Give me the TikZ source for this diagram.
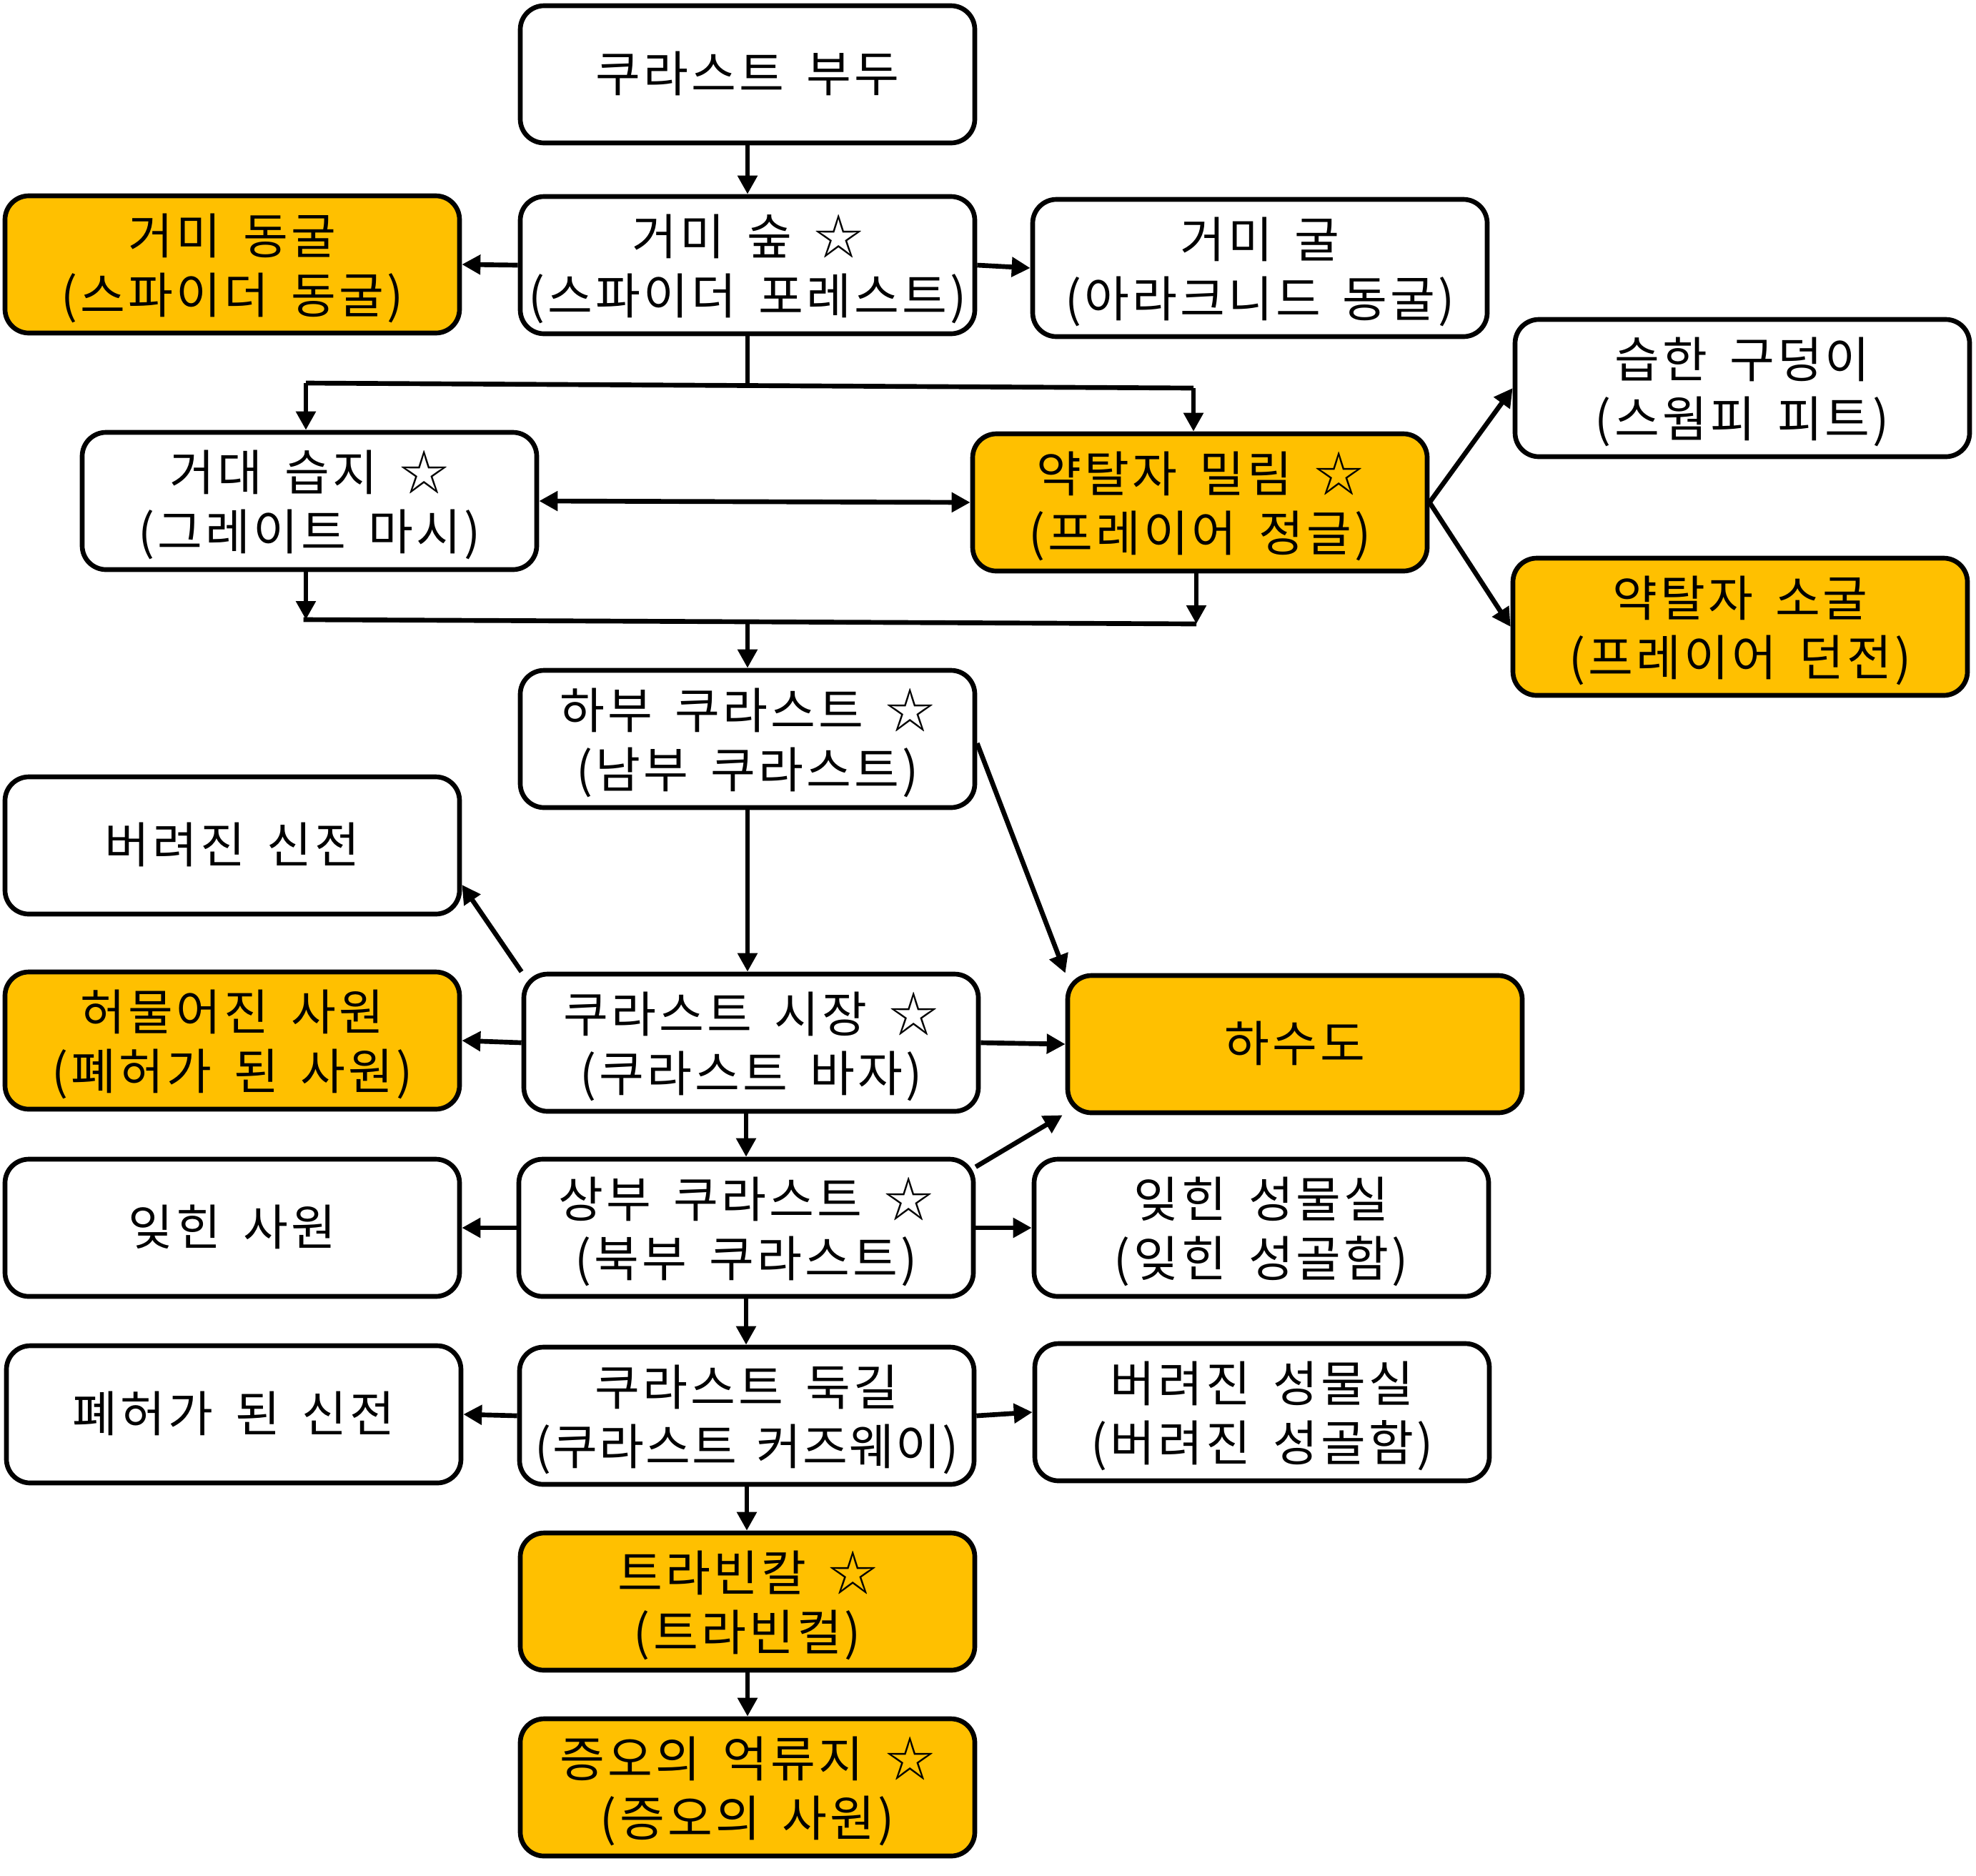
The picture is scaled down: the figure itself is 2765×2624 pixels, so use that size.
\documentclass[tikz,border=0pt]{standalone}
\usepackage{fontspec}
\newfontfamily\kr[LetterSpace=6,WordSpace=1.6]{Noto Sans CJK KR}
\newfontfamily\krn[LetterSpace=3,WordSpace=1.6]{Noto Sans CJK KR}
\usetikzlibrary{arrows.meta}
\definecolor{gold}{HTML}{FFC000}
\begin{document}
\begin{tikzpicture}[x=0.3pt,y=-0.3pt,
  box/.style={draw, line width=2pt, rounded corners=10pt, minimum width=190.8pt,
    minimum height=57.6pt, inner sep=0pt, align=center, fill=white,
    font=\kr\fontsize{20.5}{25}\selectfont, text height=45pt, text depth=4pt},
  one/.style={text height=17pt, text depth=2.2pt},
  gbox/.style={box, fill=gold},
  conn/.style={line width=2pt, -{Triangle[length=7.8pt,width=8pt]}},
  biconn/.style={line width=2pt, {Triangle[length=7.8pt,width=8pt]}-{Triangle[length=7.8pt,width=8pt]}},
  plain/.style={line width=2pt}]
\useasboundingbox (0,0) rectangle (2765,2624);

\node[box,one]  (n1)  at (1046,104)  {쿠라스트 부두};
\node[box]  (n2)  at (1046,371)  {거미 숲 ☆\\(스파이더 포레스트)};
\node[gbox] (n3)  at (325,370)   {거미 동굴\\(스파이더 동굴)};
\node[box]  (n4)  at (1763,375)  {거미 굴\\(아라크니드 동굴)};
\node[box]  (n5)  at (2438,543)  {습한 구덩이\\(스웜피 피트)};
\node[box]  (n6)  at (433,701)   {거대 습지 ☆\\(그레이트 마시)};
\node[gbox] (n7)  at (1679,703)  {약탈자 밀림 ☆\\(프레이어 정글)};
\node[gbox] (n8)  at (2435,877)  {약탈자 소굴\\(프레이어 던전)};
\node[box]  (n9)  at (1046,1034) {하부 쿠라스트 ☆\\(남부 쿠라스트)};
\node[box,one]  (n10) at (325,1183)  {버려진 신전};
\node[gbox] (n11) at (325,1456)  {허물어진 사원\\(폐허가 된 사원)};
\node[box]  (n12) at (1051,1459) {쿠라스트 시장 ☆\\(쿠라스트 바자)};
\node[gbox,one] (n13) at (1812,1461) {하수도};
\node[box,one]  (n14) at (325,1718)  {잊힌 사원};
\node[box]  (n15) at (1044,1718) {상부 쿠라스트 ☆\\(북부 쿠라스트)};
\node[box]  (n16) at (1765,1718) {잊힌 성물실\\(잊힌 성골함)};
\node[box,one]  (n17) at (327,1979)  {폐허가 된 신전};
\node[box]  (n18) at (1045,1981) {쿠라스트 둑길\\{\krn (쿠라스트 커즈웨이)}};
\node[box]  (n19) at (1766,1976) {버려진 성물실\\(버려진 성골함)};
\node[gbox] (n20) at (1046,2241) {트라빈칼 ☆\\(트라빈컬)};
\node[gbox] (n21) at (1046,2501) {증오의 억류지 ☆\\(증오의 사원)};

% top part
\draw[conn] (n1.south) -- (n2.north);
\draw[conn] (n2.west) -- (n3.east);
\draw[conn] (n2.east) -- (n4.west);

\coordinate (b1) at (1046,540);
\coordinate (bl) at (428,536);
\coordinate (br) at (1670,543);
\draw[plain] (n2.south) -- (b1);
\draw[plain] (bl) -- (br);
\draw[conn] (bl) -- (bl |- n6.north);
\draw[conn] (br) -- (br |- n7.north);

\draw[biconn] (n6.east) -- (n7.west);
\draw[conn] (n7.east) -- (n5.west);
\draw[conn] (n7.east) -- (n8.west);

\coordinate (m1) at (428,867);
\coordinate (m2) at (1674,873);
\coordinate (m3) at (1046,870);
\draw[conn] (m1 |- n6.south) -- (m1);
\draw[conn] (m2 |- n7.south) -- (m2);
\draw[plain] ([xshift=-1pt]m1) -- (m2);
\draw[conn] (m3) -- (n9.north);

% middle
\draw[conn] (n9.south) -- (n9.south |- n12.north);
\draw[conn] ([yshift=-1.8pt]n9.east) -- (n13.north west);
\draw[conn] (n12.north west) -- ([yshift=-16.5pt]n10.east);
\draw[conn] (n12.west) -- (n11.east);
\draw[conn] (n12.east) -- (n13.west);
\draw[conn] (n15.north |- n12.south) -- (n15.north);
\draw[conn] ([yshift=-4.2pt]n15.north east) -- ([xshift=-1.2pt]n13.south west);
\draw[conn] (n15.west) -- (n14.east);
\draw[conn] (n15.east) -- (n16.west);
\draw[conn] (n15.south) -- (n15.south |- n18.north);
\draw[conn] (n18.west) -- (n17.east);
\draw[conn] (n18.east) -- (n19.west);
\draw[conn] (n18.south) -- (n18.south |- n20.north);
\draw[conn] (n20.south) -- (n21.north);
\end{tikzpicture}
\end{document}
